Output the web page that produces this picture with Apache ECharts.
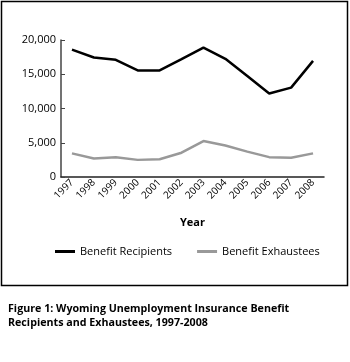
<!DOCTYPE html>
<html>
<head>
<meta charset="utf-8">
<script src="https://cdn.jsdelivr.net/npm/echarts@6/dist/echarts.min.js"></script>
<style>
  html, body { margin: 0; padding: 0; background: #fff; }
  #chart { width: 350px; height: 362px; }
</style>
</head>
<body>
<div id="chart"></div>
<script>
// Wyoming UI benefit recipients and exhaustees by year
const years = ['1997','1998','1999','2000','2001','2002','2003','2004','2005','2006','2007','2008'];
const recipients = [18600, 17450, 17100, 15550, 15550, 17200, 18900, 17250, 14750, 12200, 13050, 16950];
const exhaustees = [3450, 2700, 2900, 2500, 2600, 3550, 5250, 4600, 3700, 2900, 2800, 3450];
const yTicks = [0, 5000, 10000, 15000, 20000];

const FONT = '"Open Sans", sans-serif';
const chart = echarts.init(document.getElementById('chart'), null, { renderer: 'canvas' });

chart.setOption({
  animation: false,
  backgroundColor: '#fff',
  textStyle: { fontFamily: FONT, color: '#000' },
  title: {
    text: 'Figure 1: Wyoming Unemployment Insurance Benefit\nRecipients and Exhaustees, 1997-2008',
    left: 8,
    top: 302,
    padding: 0,
    textStyle: { fontFamily: FONT, fontSize: 10.7, fontWeight: 'bold', color: '#000', lineHeight: 14 }
  },
  legend: {
    left: 50,
    top: 241,
    itemWidth: 20,
    itemHeight: 3,
    itemGap: 25,
    icon: 'rect',
    textStyle: { fontFamily: FONT, fontSize: 11, color: '#000' },
    data: ['Benefit Recipients', 'Benefit Exhaustees']
  },
  grid: { left: 61, right: 26, top: 40, bottom: 185, containLabel: false },
  xAxis: {
    type: 'category',
    data: years,
    boundaryGap: true,
    name: 'Year',
    nameLocation: 'middle',
    nameGap: 40,
    nameTextStyle: { fontFamily: FONT, fontSize: 11, fontWeight: 'bold', color: '#000' },
    axisLine: { lineStyle: { color: '#222', width: 1.5 } },
    axisTick: { inside: true, length: 4, alignWithLabel: false, lineStyle: { color: '#222' } },
    axisLabel: { rotate: 45, fontFamily: FONT, fontSize: 10, color: '#000', margin: 4, interval: 0 }
  },
  yAxis: {
    type: 'value',
    min: yTicks[0],
    max: yTicks[yTicks.length - 1],
    interval: yTicks[1] - yTicks[0],
    axisLine: { show: true, lineStyle: { color: '#444', width: 1.5 } },
    axisTick: { show: true, inside: true, length: 4, lineStyle: { color: '#444' } },
    splitLine: { show: false },
    axisLabel: {
      fontFamily: FONT, fontSize: 11, color: '#000', margin: 5,
      formatter: v => v.toLocaleString('en-US')
    }
  },
  series: [
    {
      name: 'Benefit Recipients',
      type: 'line',
      data: recipients,
      symbol: 'none',
      color: '#000',
      lineStyle: { color: '#000', width: 2.5 }
    },
    {
      name: 'Benefit Exhaustees',
      type: 'line',
      data: exhaustees,
      symbol: 'none',
      color: '#999',
      lineStyle: { color: '#999', width: 2.5 }
    }
  ],
  graphic: [
    {
      type: 'rect',
      shape: { x: 1.5, y: 1.5, width: 346, height: 284 },
      style: { fill: 'none', stroke: '#000', lineWidth: 1.5 },
      silent: true
    }
  ]
});
</script>
</body>
</html>
